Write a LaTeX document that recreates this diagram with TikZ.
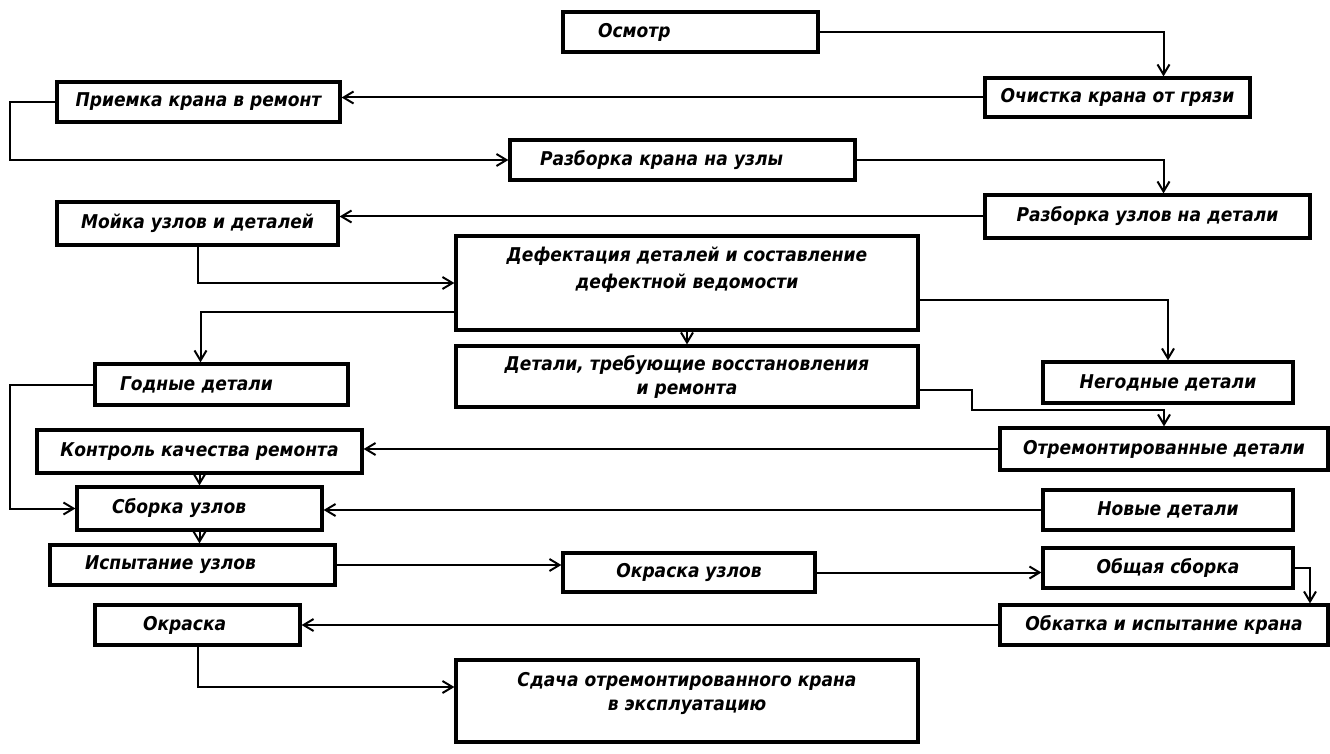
\documentclass[tikz,border=0pt]{standalone}
\usepackage{fontspec}
\setmainfont{DejaVu Sans Condensed}[ItalicFont={DejaVu Sans Condensed Oblique}, BoldItalicFont={DejaVu Sans Condensed Bold Oblique}]
\usetikzlibrary{arrows.meta}
\begin{document}
\begin{tikzpicture}[x=1pt, y=-1pt,
		txt/.style = {font=\bfseries\itshape\fontsize{19}{24}\selectfont},
		box/.style = {draw, line width=3.2pt, inner sep=0pt, align=center, txt},
		arr/.style = {line width=2pt, -{Straight Barb[length=10pt, width=12pt, line width=2pt]}}]
	\useasboundingbox (0,0) rectangle (1330,754);
	% upper part
	\node[box, minimum height=40pt, text width=185pt, inner xsep=35pt, align=left] (osm) at (690.5,32) {Осмотр};
	\node[box, minimum width=265pt, minimum height=39pt] (och) at (1117.5,97.5) {Очистка крана от грязи};
	\node[box, minimum width=283pt, minimum height=40pt] (pri) at (198.5,102) {Приемка крана в ремонт};
	\node[box, minimum height=40pt, text width=285pt, inner xsep=30pt, align=left] (raz1) at (682.5,160) {Разборка крана на узлы};
	\node[box, minimum width=325pt, minimum height=43pt] (raz2) at (1147.5,216.5) {Разборка узлов на детали};
	\node[box, minimum width=281pt, minimum height=43pt] (moi) at (197.5,223.5) {Мойка узлов и деталей};
	\node[box, minimum width=462pt, minimum height=94pt,
		label={[txt, font=\bfseries\itshape\fontsize{19}{27}\selectfont, align=center, anchor=north, yshift=-9pt]north:Дефектация деталей и составление\\дефектной ведомости}] (def) at (687,283) {};
	% sorting of parts
	\node[box, minimum height=41pt, text width=203pt, inner xsep=25pt, align=left] (god) at (221.5,384.5) {Годные детали};
	\node[box, minimum width=462pt, minimum height=61pt] (det) at (687,376.5) {Детали, требующие восстановления\\и ремонта};
	\node[box, minimum width=250pt, minimum height=41pt] (neg) at (1168,382.5) {Негодные детали};
	\node[box, minimum width=328pt, minimum height=42pt] (otr) at (1164,449) {Отремонтированные детали};
	\node[box, minimum width=325pt, minimum height=43pt] (kon) at (199.5,451.5) {Контроль качества ремонта};
	\node[box, minimum height=43pt, text width=195pt, inner xsep=25pt, align=left] (sbo) at (199.5,508.5) {\hspace*{10pt}Сборка узлов};
	\node[box, minimum width=250pt, minimum height=40pt] (nov) at (1168,510) {Новые детали};
	% assembly and delivery
	\node[box, minimum height=40pt, text width=215pt, inner xsep=35pt, align=left] (isp) at (192.5,565) {Испытание узлов};
	\node[box, minimum width=252pt, minimum height=39pt] (okr1) at (689,572.5) {Окраска узлов};
	\node[box, minimum width=250pt, minimum height=40pt] (obs) at (1168,568) {Общая сборка};
	\node[box, minimum width=328pt, minimum height=40pt] (obk) at (1164,625) {Обкатка и испытание крана};
	\node[box, minimum height=40pt, text width=109pt, inner xsep=48pt, align=left] (okr2) at (197.5,625) {Окраска};
	\node[box, minimum width=462pt, minimum height=82pt,
		label={[txt, align=center, anchor=north, yshift=-10pt]north:Сдача отремонтированного крана\\в эксплуатацию}] (sda) at (687,701) {};
	% connectors
	\draw[arr] (osm.east) -| ([xshift=46pt]och.north);
	\draw[arr] (och.west) -- (och.west -| pri.east);
	\draw[arr] (pri.west) -- ++(-45,0) |- (raz1.west);
	\draw[arr] (raz1.east) -| ([xshift=16pt]raz2.north);
	\draw[arr] (raz2.west) -- (raz2.west -| moi.east);
	\draw[arr] (moi.south) |- (def.west);
	\draw[arr] ([yshift=-29pt]def.west) -| ([xshift=-21pt]god.north);
	\draw[arr] (def.south) -- (det.north);
	\draw[arr] ([yshift=-17pt]def.east) -| (neg.north);
	\draw[arr] ([yshift=-13pt]det.east) -- ++(52,0) |- ([yshift=16pt]otr.north) -- (otr.north);
	\draw[arr] (otr.west) -- (otr.west -| kon.east);
	\draw[arr] (kon.south) -- (sbo.north);
	\draw[arr] (god.west) -- ++(-83,0) |- (sbo.west);
	\draw[arr] (nov.west) -- (nov.west -| sbo.east);
	\draw[arr] (sbo.south) -- (sbo.south |- isp.north);
	\draw[arr] (isp.east) -- (isp.east -| okr1.west);
	\draw[arr] (okr1.east) -- (okr1.east -| obs.west);
	\draw[arr] (obs.east) -| ([xshift=146pt]obk.north);
	\draw[arr] (obk.west) -- (obk.west -| okr2.east);
	\draw[arr] (okr2.south) |- ([yshift=14pt]sda.west);
\end{tikzpicture}
\end{document}
